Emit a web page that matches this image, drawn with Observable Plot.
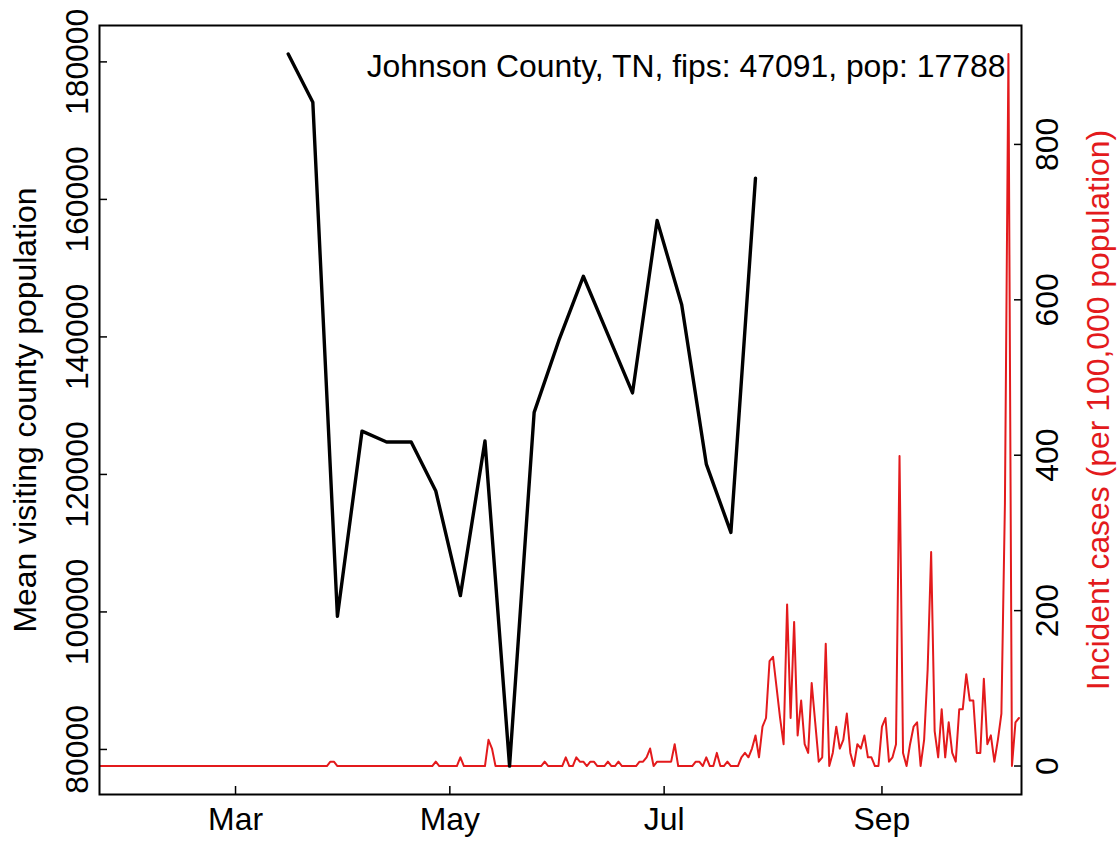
<!DOCTYPE html>
<html>
<head>
<meta charset="utf-8">
<script src="https://cdn.jsdelivr.net/npm/d3@7"></script>
<script src="https://cdn.jsdelivr.net/npm/@observablehq/plot@0.6"></script>
<style>
  html, body { margin: 0; padding: 0; background: #fff; }
  #chart { position: relative; width: 1119px; height: 842px; }
  #chart svg { position: absolute; left: 0; top: 0; }
</style>
</head>
<body>
<div id="chart"></div>
<script>
// ---- text ----
const titleText = "Johnson County, TN, fips: 47091, pop: 17788";
const leftLabel = "Mean visiting county population";
const rightLabel = "Incident cases (per 100,000 population)";

// ---- axes ----
const xLimits = ["2020-02-01", "2020-10-01"];
const monthTicks = ["2020-03-01", "2020-05-01", "2020-07-01", "2020-09-01"];
const leftTicks = [80000, 100000, 120000, 140000, 160000, 180000];
const rightTicks = [0, 200, 400, 600, 800];

// ---- weekly mean visiting county population ----
const visitDates = [
  "2020-03-16", "2020-03-23", "2020-03-30", "2020-04-06", "2020-04-13",
  "2020-04-20", "2020-04-27", "2020-05-04", "2020-05-11", "2020-05-18",
  "2020-05-25", "2020-06-01", "2020-06-08", "2020-06-15", "2020-06-22",
  "2020-06-29", "2020-07-06", "2020-07-13", "2020-07-20", "2020-07-27"
];
const visitValues = [
  181150, 174140, 99360, 126290, 124720,
  124720, 117590, 102370, 124870, 77590,
  129030, 139450, 148820, 140330, 131860,
  156950, 144680, 121500, 111570, 163100
];

// ---- daily incident cases per 100,000, starting 2020-01-22 ----
const caseStart = "2020-01-22";
const caseValues = [
  0, 0, 0, 0, 0, 0, 0, 0, 0, 0,
  0, 0, 0, 0, 0, 0, 0, 0, 0, 0,
  0, 0, 0, 0, 0, 0, 0, 0, 0, 0,
  0, 0, 0, 0, 0, 0, 0, 0, 0, 0,
  0, 0, 0, 0, 0, 0, 0, 0, 0, 0,
  0, 0, 0, 0, 0, 0, 0, 0, 0, 0,
  0, 0, 0, 0, 0, 0, 5.6, 5.6, 0, 0,
  0, 0, 0, 0, 0, 0, 0, 0, 0, 0,
  0, 0, 0, 0, 0, 0, 0, 0, 0, 0,
  0, 0, 0, 0, 0, 0, 5.6, 0, 0, 0,
  0, 0, 0, 11.2, 0, 0, 0, 0, 0, 0,
  0, 33.7, 22.5, 0, 0, 0, 0, 0, 0, 0,
  0, 0, 0, 0, 0, 0, 0, 5.6, 0, 0,
  0, 0, 0, 11.2, 0, 0, 11.2, 5.6, 5.6, 0,
  5.6, 5.6, 0, 0, 0, 5.6, 0, 0, 5.6, 0,
  0, 0, 0, 0, 5.6, 5.6, 11.2, 22.5, 0, 5.6,
  5.6, 5.6, 5.6, 5.6, 28.1, 0, 0, 0, 0, 0,
  5.6, 5.6, 0, 11.2, 0, 0, 16.9, 0, 0, 5.6,
  0, 0, 0, 11.2, 16.9, 11.2, 22.5, 39.4, 11.2, 50.6,
  61.8, 134.9, 140.5, 101.2, 61.8, 28.1, 208.0, 61.8, 185.5, 39.4,
  84.3, 28.1, 16.9, 106.8, 56.2, 5.6, 11.2, 157.4, 0, 16.9,
  50.6, 22.5, 33.7, 67.5, 16.9, 0, 28.1, 22.5, 39.4, 11.2,
  11.2, 0, 0, 50.6, 61.8, 5.6, 11.2, 28.1, 399.1, 16.9,
  0, 28.1, 50.6, 56.2, 0, 33.7, 123.7, 275.5, 45.0, 11.2,
  73.1, 11.2, 56.2, 16.9, 5.6, 73.1, 73.1, 118.1, 84.3, 84.3,
  16.9, 16.9, 112.4, 28.1, 39.4, 5.6, 33.7, 67.5, 337.3, 916.4,
  0, 56.2, 61.8
];

// ---- build tables ----
const visits = visitDates.map((d, i) => ({date: new Date(d), value: visitValues[i]}));
const t0 = new Date(caseStart);
const cases = caseValues.map((v, i) => ({date: d3.utcDay.offset(t0, i), value: v}));
const months = monthTicks.map(d => new Date(d));

// R-style 4% axis extension
const pad = ([a, b]) => [a - 0.04 * (b - a), b + 0.04 * (b - a)];
const xDomain = pad(xLimits.map(d => +new Date(d))).map(t => new Date(t));
const yLeftDomain = pad(d3.extent(visitValues));
const yRightDomain = pad(d3.extent(caseValues));

const red = "#e31a1c";
const common = {
  width: 1119,
  height: 842,
  marginLeft: 99,
  marginRight: 98,
  marginTop: 25,
  marginBottom: 48,
  style: {
    fontFamily: "'Liberation Sans', Arial, Helvetica, sans-serif",
    fontSize: "31.9px",
    background: "transparent",
    overflow: "visible",
    color: "black"
  }
};

// Layer 1: incident cases with right axis
const redPlot = Plot.plot({
  ...common,
  x: {type: "utc", domain: xDomain, axis: null},
  y: {domain: yRightDomain, axis: null},
  marks: [
    Plot.line(cases, {x: "date", y: "value", stroke: red, strokeWidth: 2, clip: true}),
    Plot.axisY(rightTicks, {anchor: "right", tickSize: -8, tickFormat: () => "", label: null, strokeWidth: 1.5}),
    Plot.text(rightTicks, {y: d => d, text: d => String(d), frameAnchor: "right", dx: 36.5,
      rotate: -90, textAnchor: "middle", lineAnchor: "bottom"}),
    Plot.text([rightLabel], {text: d => d, frameAnchor: "right", dx: 87, rotate: -90,
      textAnchor: "middle", lineAnchor: "bottom", fill: red})
  ]
});

// Layer 2: visiting population, frame, bottom & left axes, title
const blackPlot = Plot.plot({
  ...common,
  x: {type: "utc", domain: xDomain, axis: null},
  y: {domain: yLeftDomain, axis: null},
  marks: [
    Plot.frame({stroke: "black", strokeWidth: 2}),
    Plot.axisX(months, {anchor: "bottom", tickSize: -8, tickFormat: () => "", label: null, strokeWidth: 1.5}),
    Plot.axisY(leftTicks, {anchor: "left", tickSize: -8, tickFormat: () => "", label: null, strokeWidth: 1.5}),
    Plot.line(visits, {x: "date", y: "value", stroke: "black", strokeWidth: 3.4}),
    Plot.text(months, {x: d => d, text: d => d3.utcFormat("%b")(d), frameAnchor: "bottom",
      dy: 35.5, lineAnchor: "bottom"}),
    Plot.text(leftTicks, {y: d => d, text: d => String(d), frameAnchor: "left", dx: -11.5,
      rotate: -90, textAnchor: "middle", lineAnchor: "bottom"}),
    Plot.text([leftLabel], {text: d => d, frameAnchor: "left", dx: -64, rotate: -90,
      textAnchor: "middle", lineAnchor: "bottom"}),
    Plot.text([titleText], {text: d => d, frameAnchor: "top-right", dx: -16, dy: 51.7,
      textAnchor: "end", lineAnchor: "bottom"})
  ]
});

const chart = document.getElementById("chart");
chart.appendChild(redPlot);
chart.appendChild(blackPlot);
</script>
</body>
</html>
